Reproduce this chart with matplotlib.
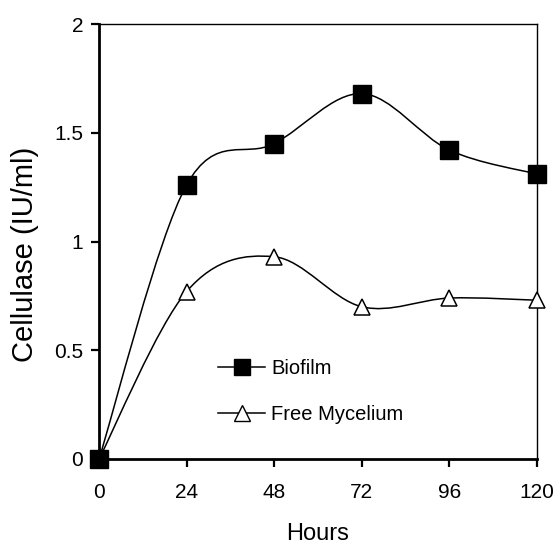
import numpy as np
import matplotlib
matplotlib.use("Agg")
import matplotlib.pyplot as plt
from matplotlib.path import Path
from matplotlib.patches import PathPatch
from matplotlib.lines import Line2D

hours = [0, 24, 48, 72, 96, 120]
biofilm = [0.0, 1.26, 1.45, 1.68, 1.42, 1.31]
free_mycelium = [0.0, 0.77, 0.93, 0.70, 0.74, 0.73]
xticks = [0, 24, 48, 72, 96, 120]
yticks = [0, 0.5, 1, 1.5, 2]
ytick_labels = ["0", "0.5", "1", "1.5", "2"]

plt.rcParams['font.family'] = ['Liberation Sans', 'DejaVu Sans']

fig = plt.figure(figsize=(5.59, 5.44), dpi=100)
ax = fig.add_axes([99/559, 1-459/544, (537-99)/559, (459-24)/544])


def smooth_path(x, y):
    pts = np.column_stack([x, y]).astype(float)
    n = len(pts)
    verts = [pts[0]]
    codes = [Path.MOVETO]
    for i in range(n - 1):
        p0 = pts[i - 1] if i > 0 else pts[i]
        p1 = pts[i]
        p2 = pts[i + 1]
        p3 = pts[i + 2] if i + 2 < n else pts[i + 1]
        c1 = p1 + (p2 - p0) / 6.0
        c2 = p2 - (p3 - p1) / 6.0
        verts += [c1, c2, p2]
        codes += [Path.CURVE4] * 3
    return Path(verts, codes)


for ys in (biofilm, free_mycelium):
    patch = PathPatch(smooth_path(hours, ys), facecolor='none', edgecolor='black',
                      lw=1.1, zorder=2)
    ax.add_patch(patch)

ax.plot(hours, biofilm, linestyle='none', marker='s', markersize=12.5,
        markerfacecolor='black', markeredgecolor='black', clip_on=False, zorder=4)
ax.plot(hours, free_mycelium, linestyle='none', marker='^', markersize=12,
        markerfacecolor='white', markeredgecolor='black', markeredgewidth=1.1,
        clip_on=False, zorder=3)

ax.set_xlim(0, 120)
ax.set_ylim(0, 2)
ax.set_xticks(xticks)
ax.set_xticklabels([str(v) for v in xticks])
ax.set_yticks(yticks)
ax.set_yticklabels(ytick_labels)
ax.tick_params(axis='both', direction='out', length=6, width=1.6, labelsize=15,
               color='black')
ax.tick_params(axis='x', pad=11)
ax.tick_params(axis='y', pad=5.5)

for s in ('left', 'bottom'):
    ax.spines[s].set_linewidth(2.0)
for s in ('top', 'right'):
    ax.spines[s].set_linewidth(1.0)

ax.set_xlabel('Hours', fontsize=17)
ax.set_ylabel('Cellulase (IU/ml)', fontsize=21)
ax.xaxis.set_label_coords(0.5, (459-534)/435)
ax.xaxis.label.set_va('center')
ax.yaxis.set_label_coords((25-99)/438, (459-254)/435)
ax.yaxis.label.set_va('center')

h1 = Line2D([], [], color='black', lw=1.1, marker='s', markersize=12,
            markerfacecolor='black', markeredgecolor='black')
h2 = Line2D([], [], color='black', lw=1.1, marker='^', markersize=11,
            markerfacecolor='white', markeredgecolor='black')
leg = ax.legend([h1, h2], ['Biofilm', 'Free Mycelium'], loc='upper left',
                bbox_to_anchor=(218/559, 1-359/544), bbox_transform=fig.transFigure,
                frameon=False, fontsize=14.5, handlelength=2.35, handletextpad=0.3,
                labelspacing=1.35, borderpad=0, borderaxespad=0, numpoints=1)

fig.savefig('out.png', dpi=100)
